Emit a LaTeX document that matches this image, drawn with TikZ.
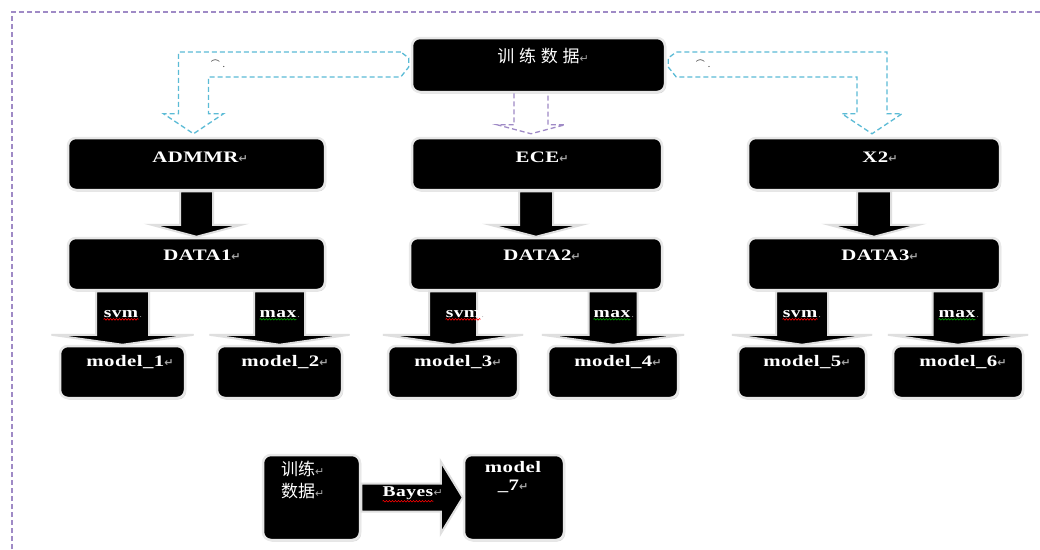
\documentclass[tikz,border=0pt]{standalone}
\usepackage{fontspec}
\setmainfont{Liberation Serif}
\newfontfamily\lat{Liberation Serif}[FakeStretch=1.3, LetterSpace=3]
\newfontfamily\cjk{Noto Sans CJK SC}
\newfontfamily\cjksp{Noto Sans CJK SC}[LetterSpace=28]
\newfontfamily\sym{DejaVu Sans}
\usetikzlibrary{calc,shadows,decorations.pathmorphing}
\definecolor{framepurple}{HTML}{9F8AC6}
\definecolor{dashcyan}{HTML}{5BBBD6}
\newcommand{\ret}{{\sym\fontsize{11}{11}\selectfont\textcolor{gray!70}{↵}}}
\newcommand{\vblk}[5]{%
  \draw[blk] let \p1=(#1.south), \p2=(#2.north) in
    (\x2-#3,\y1) -- (\x2-#3,\y2+#5) -- (\x2-#4,\y2+#5) -- (\x2,\y2)
    -- (\x2+#4,\y2+#5) -- (\x2+#3,\y2+#5) -- (\x2+#3,\y1) -- cycle;}
\tikzset{
  box/.style={fill=black, draw=gray!18, line width=2.5pt, rounded corners=8pt, inner sep=0pt,
    drop shadow={shadow xshift=1.2pt, shadow yshift=-1.5pt, opacity=0.3}},
  lbl/.style={text=white, font=\lat\bfseries\fontsize{16}{18}\selectfont, inner sep=0pt},
  clbl/.style={text=white, font=\cjksp\fontsize{17}{21}\selectfont, inner sep=0pt},
  clblb/.style={text=white, font=\cjk\fontsize{17}{22}\selectfont, inner sep=0pt},
  slbl/.style={text=white, font=\lat\bfseries\fontsize{15}{15}\selectfont, inner sep=0pt},
  blk/.style={fill=black, draw=gray!25, line width=2pt, line join=miter},
  dashline/.style={line width=1.3pt, dash pattern=on 5pt off 3pt},
  cyanarr/.style={dashline, draw=dashcyan},
  purarr/.style={dashline, draw=framepurple},
  squig/.style={decorate, decoration={snake, amplitude=0.8pt, segment length=3pt}, line width=0.6pt},
  art/.style={font=\cjk\fontsize{9}{9}\selectfont, inner sep=0pt, text=black!80},
  dotm/.style={font=\fontsize{9}{9}\selectfont, text=gray!60, inner sep=0pt}
}
\begin{document}
\begin{tikzpicture}[x=1pt,y=-1pt]
\useasboundingbox (0,0) rectangle (1040,549);
\fill[white] (0,0) rectangle (1040,549);
% frame
\draw[dashline, draw=framepurple] (12,549) -- (12,12) -- (1040,12);

% boxes
\node[box, minimum width=253pt, minimum height=54pt] (T) at (538.5,65) {};
\node[box, minimum width=257pt, minimum height=52pt] (admmr) at (196.5,164) {};
\node[box, minimum width=250pt, minimum height=52pt] (ece) at (537,164) {};
\node[box, minimum width=252pt, minimum height=52pt] (x2) at (874,164) {};
\node[box, minimum width=257pt, minimum height=52pt] (data1) at (196.5,264) {};
\node[box, minimum width=252pt, minimum height=52pt] (data2) at (536,264) {};
\node[box, minimum width=252pt, minimum height=52pt] (data3) at (874,264) {};
\node[box, minimum width=125pt, minimum height=52pt] (m1) at (122.5,372) {};
\node[box, minimum width=125pt, minimum height=52pt] (m2) at (279.5,372) {};
\node[box, minimum width=130pt, minimum height=52pt] (m3) at (453,372) {};
\node[box, minimum width=130pt, minimum height=52pt] (m4) at (613,372) {};
\node[box, minimum width=128pt, minimum height=52pt] (m5) at (802,372) {};
\node[box, minimum width=130pt, minimum height=52pt] (m6) at (958,372) {};
\node[box, minimum width=97pt, minimum height=85pt] (b1) at (311.5,497.5) {};
\node[box, minimum width=100pt, minimum height=85pt] (b7) at (514,497.5) {};

% box texts
\node[clbl] (Tt) at (543,56) {训练数据\ret};
\node[lbl] (admmrt) at (200,157) {ADMMR\ret};
\node[lbl] (ecet) at (542,157) {ECE\ret};
\node[lbl] (x2t) at (880,157) {X2\ret};
\node[lbl] (data1t) at (202,255) {DATA1\ret};
\node[lbl] (data2t) at (542,255) {DATA2\ret};
\node[lbl] (data3t) at (880,255) {DATA3\ret};
\node[lbl] (m1t) at (130,362) {model\_1\ret};
\node[lbl] (m2t) at (285,362) {model\_2\ret};
\node[lbl] (m3t) at (458,362) {model\_3\ret};
\node[lbl] (m4t) at (618,362) {model\_4\ret};
\node[lbl] (m5t) at (807,362) {model\_5\ret};
\node[lbl] (m6t) at (963,362) {model\_6\ret};
\node[clblb, align=left, anchor=north west] (b1t) at (281,461) {训练\ret\\数据\ret};
\node[lbl, align=center, anchor=north] (b7t) at (513,461) {model\\\_7\ret};

% block arrows
\vblk{admmr}{data1}{16.5pt}{45pt}{12pt}
\vblk{ece}{data2}{17pt}{46pt}{12pt}
\vblk{x2}{data3}{17pt}{45pt}{12pt}
\vblk{data1}{m1}{26.5pt}{71pt}{10pt}
\vblk{data1}{m2}{25.5pt}{70pt}{10pt}
\vblk{data2}{m3}{24pt}{70pt}{10pt}
\vblk{data2}{m4}{24.5pt}{71pt}{10pt}
\vblk{data3}{m5}{26pt}{70pt}{10pt}
\vblk{data3}{m6}{25.5pt}{70pt}{10pt}
\draw[blk] let \p1=(b1.east), \p2=(b7.west) in
  (\x1,\y1+14pt) -- (\x2-22pt,\y1+14pt) -- (\x2-22pt,\y1+36pt) -- (\x2,\y1)
  -- (\x2-22pt,\y1-36pt) -- (\x2-22pt,\y1-14pt) -- (\x1,\y1-14pt) -- cycle;

% arrow labels
\foreach \n/\x/\t/\c in {s1/121/svm/red, x1/278/max/green!60!black, s2/463/svm/red, x2l/612/max/green!60!black, s3/800/svm/red, x3/957/max/green!60!black}{
  \node[slbl] (\n) at (\x,314) {\t};
  \node[dotm, anchor=south west] (\n d) at ([xshift=1pt]\n.base east) {.};
  \draw[\c, squig] ([yshift=-1.5pt]\n.south west) -- ([yshift=-1.5pt]\n.south east);
}
\node[slbl] (bayes) at (408,493) {Bayes};
\node[anchor=west, inner sep=0pt] (bayesr) at (bayes.east) {\ret};
\draw[red, squig] ([yshift=-1.5pt]bayes.south west) -- ([yshift=-1.5pt]bayes.south east);

% dashed bent arrows
\draw[cyanarr] let \p1=(T.west), \p2=(admmr.north) in
  (\x1-10pt,\y1+13pt) -- (\x2-18pt,\y1+13pt) -- (\x2-18pt,\y2+23pt) -- (\x2-33pt,\y2+23pt)
  -- (\x2-3pt,\y2+3pt) -- (\x2+27pt,\y2+23pt) -- (\x2+12pt,\y2+23pt) -- (\x2+12pt,\y1-12pt)
  -- (\x1-10pt,\y1-12pt) -- (\x1-2pt,\y1-2pt) -- (\x1-2pt,\y1+7pt) -- cycle;
\draw[cyanarr] let \p1=(T.east), \p2=(x2.north) in
  (\x1+10pt,\y1+13pt) -- (\x2+13pt,\y1+13pt) -- (\x2+13pt,\y2+23pt) -- (\x2+28pt,\y2+23pt)
  -- (\x2-2pt,\y2+3pt) -- (\x2-32pt,\y2+23pt) -- (\x2-17pt,\y2+23pt) -- (\x2-17pt,\y1-12pt)
  -- (\x1+10pt,\y1-12pt) -- (\x1+2pt,\y1-2pt) -- (\x1+2pt,\y1+7pt) -- cycle;
\draw[purarr] let \p1=(T.south), \p2=(ece.north) in
  (\x2-23pt,\y1) -- (\x2-23pt,\y2+12pt) -- (\x2-40pt,\y2+12pt) -- (\x2-6pt,\y2+3pt)
  -- (\x2+28pt,\y2+12pt) -- (\x2+11pt,\y2+12pt) -- (\x2+11pt,\y1);
\node[art] (art1) at (218,64) {⌒\,\,.};
\node[art] (art2) at (703,64) {⌒\,\,.};
\end{tikzpicture}
\end{document}
